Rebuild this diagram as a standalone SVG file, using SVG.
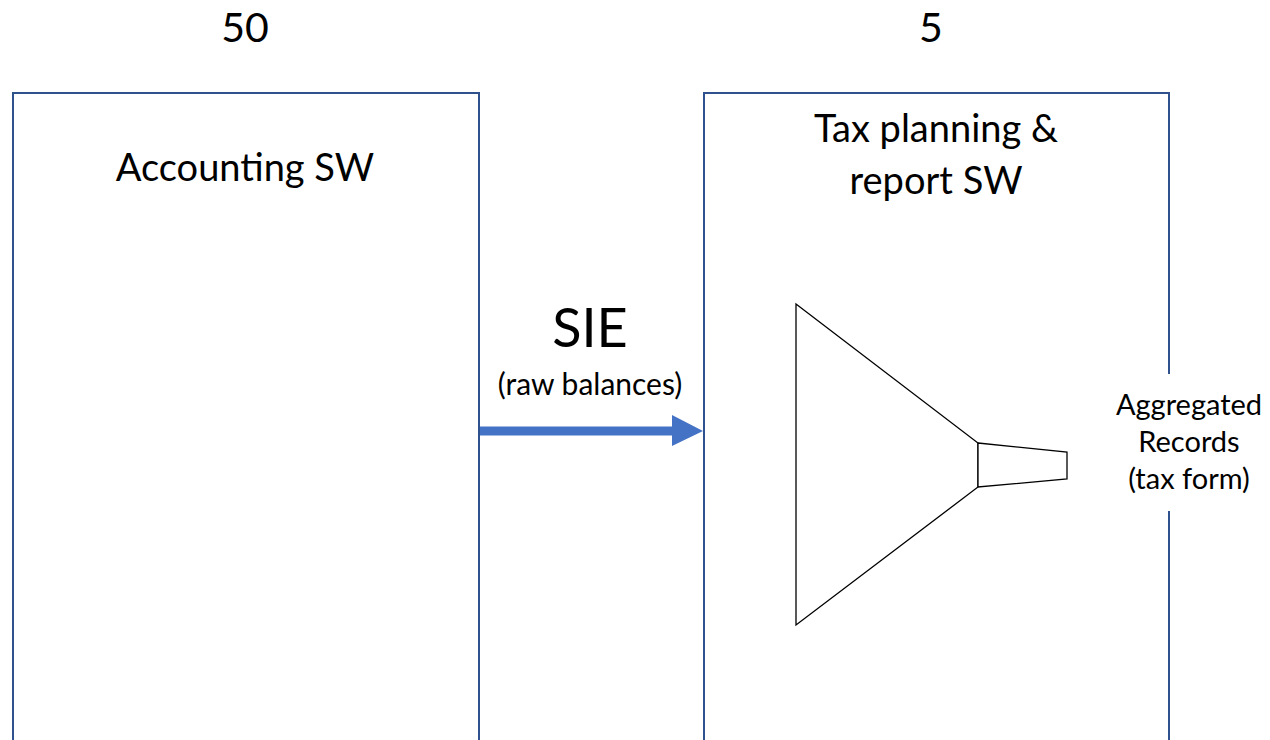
<svg xmlns="http://www.w3.org/2000/svg" width="1270" height="740" viewBox="0 0 1270 740">
<style>
.box{fill:none;stroke:#2F528F;stroke-width:2}
.t{font-family:Lato,"Open Sans","Liberation Sans",sans-serif;fill:#000;text-anchor:middle}
.f{fill:#fff;stroke:#000;stroke-width:1.3;stroke-linejoin:miter}
</style>
<rect width="1270" height="740" fill="#fff"/>
<g id="count-left"><text class="t" x="245" y="42" font-size="41">50</text></g>
<g id="count-right"><text class="t" x="931" y="42" font-size="41">5</text></g>
<g id="accounting">
<path class="box" d="M13,745 V93 H479 V745"/>
<text class="t" x="245" y="181" font-size="38">Accounting SW</text>
</g>
<g id="tax">
<path class="box" d="M704,745 V93 H1169 V374 M1169,511 V745"/>
<text class="t" x="936" y="142" font-size="38">Tax planning &amp;</text>
<text class="t" x="936" y="194" font-size="38">report SW</text>
<polygon class="f" points="796,304 978,443 978,487 796,625"/>
<polygon class="f" points="978,443 1067,452 1067,479 978,487"/>
<text class="t" x="1189" y="415" font-size="29">Aggregated</text>
<text class="t" x="1189" y="452" font-size="29">Records</text>
<text class="t" x="1189" y="489" font-size="29">(tax form)</text>
</g>
<g id="connectors">
<line x1="480" y1="431" x2="673" y2="431" stroke="#4472C4" stroke-width="9"/>
<polygon points="672,415 703,431 672,446" fill="#4472C4"/>
<text class="t" x="590" y="347" font-size="54">SIE</text>
<text class="t" x="590" y="395" font-size="30">(raw balances)</text>
</g>
</svg>
